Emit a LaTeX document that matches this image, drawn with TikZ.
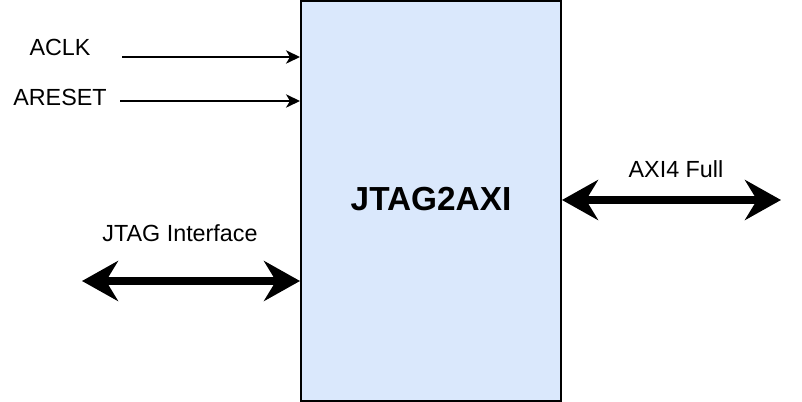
\documentclass[tikz,border=0pt]{standalone}
\usepackage{fontspec}
\setmainfont{Liberation Sans}
\usetikzlibrary{arrows.meta,positioning}
\definecolor{CoreFill}{RGB}{218,232,252}
\tikzset{
  corebox/.style={draw=black,fill=CoreFill,line width=1.5pt,minimum width=195pt,minimum height=300pt,inner sep=0pt,font=\fontsize{25}{30}\selectfont\bfseries},
  lbl/.style={font=\fontsize{17.5}{21}\selectfont,inner sep=0pt},
  sarr/.style={-{Stealth[length=10.5pt,width=10pt,inset=3pt]},line width=1.3pt},
  busarr/.style={{Stealth[length=27pt,width=30pt,inset=9pt]}-{Stealth[length=27pt,width=30pt,inset=9pt]},line width=5.5pt},
}
\begin{document}
\begin{tikzpicture}[x=0.75pt,y=-0.75pt]
    \useasboundingbox (0,0) rectangle (802,402);
    %% Core
    \node[corebox] (core) at (431,201) {\raisebox{3.5pt}{JTAG2AXI}};
    %% Inputs
    \node[lbl] (aclk)   at (60,47) {ACLK};
    \node[lbl] (areset) at (60,97) {ARESET};
    \coordinate (clkin) at (122,57);
    \coordinate (rstin) at (120,101);
    \draw[sarr] (clkin)--(core.west|-clkin);
    \draw[sarr] (rstin)--(core.west|-rstin);
    %% JTAG side
    \node[lbl] (jtag) at (180,233) {JTAG Interface};
    \coordinate (jtagend) at (82,281);
    \draw[busarr] (jtagend)--(core.west|-jtagend);
    %% AXI side
    \node[lbl] (axi) at (676,169) {AXI4 Full};
    \coordinate (axiend) at (781,200);
    \draw[busarr] (core.east|-axiend)--(axiend);
  \end{tikzpicture}
\end{document}
